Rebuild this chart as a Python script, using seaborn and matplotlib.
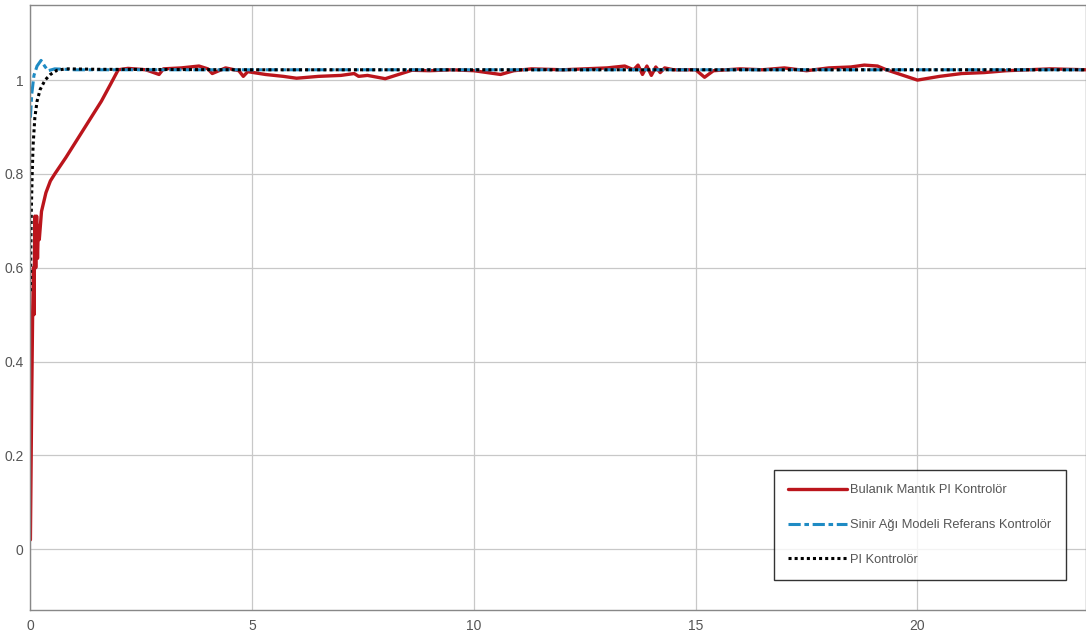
import seaborn as sns
import matplotlib.pyplot as plt

# fuzzy PI (red)
t_fuzzy = [0, 0.03, 0.05, 0.07, 0.08, 0.10, 0.12, 0.14, 0.16, 0.18, 0.20, 0.25, 0.35, 0.45,
           0.55, 0.8, 1.0, 1.2, 1.4, 1.6, 1.8, 1.98, 2.2, 2.6, 2.9, 3.0, 3.4, 3.8, 4.0, 4.1,
           4.4, 4.7, 4.8, 4.9, 5.3, 5.7, 6.0, 6.5, 7.0, 7.3, 7.4, 7.6, 8.0, 8.3, 8.6, 9.0,
           9.5, 10.0, 10.3, 10.6, 10.9, 11.3, 12.0, 12.5, 13.0, 13.4, 13.6, 13.7, 13.8,
           13.9, 14.0, 14.1, 14.2, 14.3, 14.5, 15.0, 15.2, 15.4, 16.0, 16.5, 17.0, 17.5,
           18.0, 18.5, 18.8, 19.1, 19.3, 20.0, 20.5, 21.0, 21.5, 22.0, 23.0, 23.8]
y_fuzzy = [0.02, 0.33, 0.50, 0.60, 0.50, 0.71, 0.60, 0.71, 0.62, 0.69, 0.66, 0.72, 0.76, 0.785,
           0.80, 0.835, 0.865, 0.895, 0.925, 0.955, 0.99, 1.022, 1.025, 1.022, 1.012, 1.024, 1.026,
           1.030, 1.024, 1.014, 1.026, 1.020, 1.008, 1.018, 1.012, 1.008, 1.004, 1.008, 1.010,
           1.014, 1.008, 1.010, 1.003, 1.012, 1.021, 1.020, 1.022, 1.020, 1.016, 1.012, 1.020,
           1.024, 1.022, 1.024, 1.026, 1.030, 1.022, 1.032, 1.012, 1.030, 1.010, 1.028, 1.016,
           1.026, 1.022, 1.022, 1.006, 1.020, 1.024, 1.022, 1.026, 1.020, 1.026, 1.028, 1.032,
           1.030, 1.022, 1.000, 1.008, 1.014, 1.016, 1.020, 1.024, 1.022]

# neural network model reference (blue)
t_nn = [0, 0.03, 0.08, 0.15, 0.24, 0.32, 0.40, 0.55, 1.0, 5.0, 10.0, 15.0, 20.0, 23.8]
y_nn = [0.92, 0.97, 1.01, 1.03, 1.042, 1.03, 1.02, 1.024, 1.022, 1.022, 1.022, 1.022, 1.022, 1.022]

# classic PI (black)
t_pi = [0, 0.02, 0.04, 0.06, 0.10, 0.15, 0.22, 0.33, 0.45, 0.60, 0.80, 1.5, 5.0, 10.0, 15.0, 20.0, 23.8]
y_pi = [0.55, 0.72, 0.80, 0.86, 0.92, 0.955, 0.98, 1.0, 1.012, 1.021, 1.024, 1.023, 1.022,
        1.022, 1.022, 1.022, 1.022]

sns.set_theme(style="whitegrid")
plt.rcParams['font.family'] = ['Liberation Sans', 'DejaVu Sans']

fig = plt.figure(figsize=(10.86, 6.31), dpi=100)
ax = fig.add_axes([0.028, 0.033, 0.972, 0.959])

sns.lineplot(x=t_fuzzy, y=y_fuzzy, ax=ax, color='#bb151c', linewidth=2.4,
             estimator=None, label='Bulanık Mantık PI Kontrolör')
sns.lineplot(x=t_nn, y=y_nn, ax=ax, color='#1f8bc4', linewidth=2.2, estimator=None,
             label='Sinir Ağı Modeli Referans Kontrolör')
ax.lines[-1].set_linestyle((0, (4, 1.2, 1.5, 1.2)))
sns.lineplot(x=t_pi, y=y_pi, ax=ax, color='black', linewidth=2.2, estimator=None,
             label='PI Kontrolör')
ax.lines[-1].set_linestyle((0, (1, 1)))

ax.set_xlim(0, 23.8)
ax.set_ylim(-0.13, 1.16)
ax.set_xticks([0, 5, 10, 15, 20])
ax.set_yticks([0, 0.2, 0.4, 0.6, 0.8, 1])
ax.set_yticklabels(['0', '0.2', '0.4', '0.6', '0.8', '1'])
ax.grid(True, color='#c8c8c8', linewidth=0.9)
ax.set_facecolor('white')
for s in ax.spines.values():
    s.set_color('#888888')
    s.set_linewidth(1.0)
ax.tick_params(axis='both', colors='#555555', labelsize=10, length=3, pad=2)
ax.tick_params(axis='x', pad=3)

leg = ax.legend(loc='lower right', bbox_to_anchor=(0.981, 0.05), frameon=True,
                fancybox=False, edgecolor='black', fontsize=9.3, labelspacing=1.75,
                handlelength=4.6, handletextpad=0.25, borderpad=1.1, borderaxespad=0)
leg.get_frame().set_linewidth(1.0)
for txt in leg.get_texts():
    txt.set_color('#555555')

fig.savefig('out.png', dpi=100)
